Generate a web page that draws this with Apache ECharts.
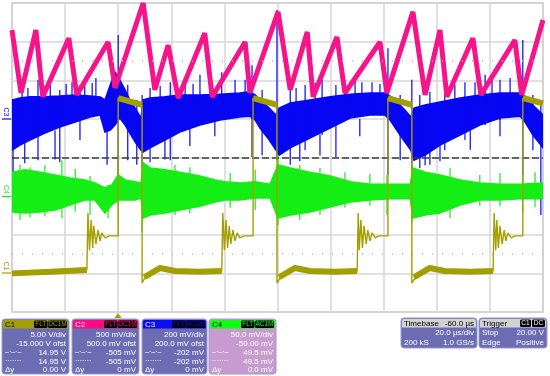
<!DOCTYPE html>
<html>
<head>
<meta charset="utf-8">
<title>Scope capture</title>
<script src="https://cdn.jsdelivr.net/npm/echarts/dist/echarts.min.js"></script>
<style>
  html, body { margin: 0; padding: 0; background: #fff; }
  #scope { width: 550px; height: 376px; }
</style>
</head>
<body>
<div id="scope"></div>
<script>
// trace values are in screen divisions: x 0..10 (20 us/div), y 0..8 (centre line = 4)

// C1 switch node (olive): centre line of the trace
var c1X = [0, 0.72, 1.41, 1.43, 1.46, 1.49, 1.52, 1.54, 1.58, 1.62, 1.66, 1.69, 1.75, 1.83, 2.00, 2.00, 2.45, 2.45, 2.50, 2.79, 3.07, 3.54, 3.95,
  3.97, 4.00, 4.03, 4.06, 4.09, 4.12, 4.16, 4.20, 4.24, 4.29, 4.37, 4.54, 4.54, 4.99, 4.99, 5.05, 5.33, 5.61, 6.08, 6.50,
  6.52, 6.54, 6.57, 6.60, 6.63, 6.67, 6.70, 6.74, 6.78, 6.84, 6.91, 7.08, 7.08, 7.53, 7.53, 7.59, 7.87, 8.15, 8.63, 9.06,
  9.08, 9.11, 9.13, 9.16, 9.19, 9.23, 9.27, 9.30, 9.34, 9.40, 9.47, 9.62, 9.62, 10];
var c1Y = [0.98, 1.04, 1.09, 2.56, 1.60, 2.38, 1.66, 2.23, 1.76, 2.12, 1.84, 2.05, 1.92, 1.97, 1.97, 5.54, 5.36, 0.75, 0.88, 1.14, 1.06, 1.04, 1.06,
  2.56, 1.60, 2.38, 1.66, 2.23, 1.76, 2.12, 1.84, 2.05, 1.92, 1.97, 1.97, 5.54, 5.36, 0.75, 0.88, 1.14, 1.06, 1.04, 1.06,
  2.56, 1.60, 2.38, 1.66, 2.23, 1.76, 2.12, 1.84, 2.05, 1.92, 1.97, 1.97, 5.54, 5.36, 0.75, 0.88, 1.14, 1.06, 1.04, 1.06,
  2.56, 1.60, 2.38, 1.66, 2.23, 1.76, 2.12, 1.84, 2.05, 1.92, 1.97, 1.97, 5.54, 5.40];
// noisy flat parts of C1 (null = gap)
var c1BandX = [0, 0.72, 1.41, null, 2.00, 2.45, null, 2.49, 2.79, 3.07, 3.54, 3.95, null, 4.54, 4.99, null, 5.03, 5.33, 5.61, 6.08, 6.50, null,
  7.08, 7.53, null, 7.57, 7.87, 8.15, 8.63, 9.06, null, 9.62, 10];
var c1BandY = [1.00, 1.04, 1.09, null, 5.54, 5.36, null, 0.90, 1.14, 1.06, 1.04, 1.06, null, 5.54, 5.36, null, 0.90, 1.14, 1.06, 1.04, 1.06, null,
  5.54, 5.36, null, 0.90, 1.14, 1.06, 1.04, 1.06, null, 5.54, 5.40];

// C2 inductor current ramp (pink): corner points
var c2X = [0, 0.17, 0.45, 0.58, 1.07, 1.22, 1.81, 1.94, 2.47, 2.69, 2.94, 3.13, 3.63, 3.77, 4.39, 4.48,
  5.01, 5.24, 5.56, 5.67, 6.12, 6.27, 6.93, 7.06, 7.55, 7.78, 8.06, 8.19, 8.68, 8.83, 9.47, 9.60, 10];
var c2Y = [7.30, 5.67, 7.30, 5.57, 7.09, 5.62, 6.99, 5.80, 8.00, 5.75, 6.91, 5.54, 7.22, 5.57, 6.99, 5.67,
  7.77, 5.75, 7.25, 5.57, 7.12, 5.67, 6.99, 5.67, 7.77, 5.62, 7.30, 5.57, 7.09, 5.62, 7.04, 5.62, 7.56];

// C3 (blue): upper / lower edge of the noise band
var c3X = [0, 0.15, 0.34, 0.62, 0.90, 1.19, 1.47, 1.66, 1.75, 1.85, 1.94, 2.03, 2.13, 2.22, 2.32, 2.43, 2.47, 2.60, 2.88, 3.16,
  3.54, 3.92, 4.29, 4.48, 4.58, 4.67, 4.82, 4.97, 5.03, 5.24, 5.61, 5.99, 6.37, 6.74, 7.02, 7.12, 7.27, 7.40, 7.51, 7.57,
  7.78, 8.06, 8.44, 8.81, 9.19, 9.57, 9.66, 9.81, 10];
var c3Top = [5.49, 5.54, 5.57, 5.57, 5.59, 5.62, 5.59, 5.57, 5.49, 5.88, 6.21, 6.01, 5.75, 5.49, 5.28, 5.02, 5.49, 5.54, 5.57, 5.62,
  5.62, 5.64, 5.67, 5.70, 5.62, 5.49, 5.31, 5.10, 5.28, 5.41, 5.49, 5.57, 5.64, 5.67, 5.67, 5.59, 5.41, 5.23, 5.05, 5.28,
  5.36, 5.44, 5.54, 5.62, 5.67, 5.67, 5.59, 5.36, 5.10];
var c3Bot = [4.19, 4.32, 4.45, 4.63, 4.79, 4.92, 5.05, 5.10, 4.66, 4.71, 4.84, 5.02, 4.84, 4.63, 4.40, 4.19, 4.14, 4.25, 4.45, 4.66,
  4.84, 4.97, 5.05, 5.07, 4.97, 4.76, 4.50, 4.19, 4.06, 4.25, 4.50, 4.76, 5.02, 5.10, 5.10, 4.97, 4.66, 4.40, 4.19, 3.93,
  4.06, 4.32, 4.58, 4.84, 5.02, 5.07, 4.92, 4.58, 4.25];
// [x, low, high]
var c3Spikes = [[0.02, 3.60, 5.49], [0.19, 4.97, 5.88], [0.49, 3.93, 6.01], [0.72, 4.97, 5.88], [0.90, 3.88, 5.75],
  [1.13, 5.23, 5.95], [1.37, 5.23, 6.01], [1.58, 5.28, 6.06], [1.79, 3.81, 5.62], [2.00, 3.34, 7.17],
  [2.18, 3.93, 5.88], [2.35, 3.81, 5.49], [2.45, 3.73, 5.62], [2.60, 3.88, 5.80], [2.98, 3.93, 5.95],
  [3.26, 4.71, 5.95], [3.54, 5.23, 6.14], [3.95, 5.23, 6.21], [4.20, 5.10, 6.01], [4.52, 4.01, 6.39],
  [4.71, 4.06, 5.75], [4.99, 3.93, 7.82], [5.24, 3.81, 5.75], [5.52, 4.19, 5.88], [5.84, 4.58, 6.01],
  [6.10, 4.01, 5.88], [6.46, 5.02, 6.06], [6.78, 5.10, 5.95], [7.08, 3.55, 6.83], [7.31, 3.93, 5.62],
  [7.53, 3.62, 6.01], [7.68, 3.73, 5.62], [7.87, 3.81, 5.70], [8.15, 4.19, 6.01], [8.53, 4.45, 5.95],
  [8.91, 4.84, 6.14], [9.19, 4.97, 6.01], [9.38, 5.10, 6.06], [9.62, 3.55, 7.04], [9.81, 4.19, 5.62],
  [9.96, 2.51, 5.49],
  [0.30, 5.30, 5.80], [0.62, 5.30, 5.85], [1.02, 5.40, 5.90], [1.28, 5.40, 5.88], [1.51, 5.40, 5.93],
  [2.79, 5.30, 5.85], [3.41, 5.40, 5.90], [3.73, 5.40, 5.95], [4.39, 5.50, 6.01], [5.35, 5.20, 5.80],
  [5.71, 5.30, 5.93], [6.27, 5.40, 6.01], [6.59, 5.50, 5.95], [6.93, 5.50, 5.90], [8.34, 5.30, 5.88],
  [8.72, 5.40, 5.95], [9.04, 5.50, 6.01],
  [0.24, 3.85, 4.50], [0.81, 3.95, 4.70], [1.28, 4.45, 5.00], [2.88, 3.95, 4.50], [3.35, 4.30, 4.80],
  [3.82, 4.55, 5.00], [5.42, 3.90, 4.40], [5.80, 4.05, 4.60], [6.55, 4.55, 5.00], [7.78, 3.80, 4.20],
  [8.06, 3.90, 4.40], [8.63, 4.20, 4.70], [9.19, 4.55, 5.00]];

// C4 (green): upper / lower edge of the noise band
var c4X = [0, 0.24, 0.53, 0.81, 1.09, 1.37, 1.56, 1.75, 1.88, 2.00, 2.13, 2.32, 2.43, 2.47, 2.60, 2.88, 3.16, 3.54, 3.82, 4.01,
  4.29, 4.58, 4.86, 5.01, 5.24, 5.61, 5.99, 6.37, 6.74, 7.12, 7.50, 7.55, 7.78, 8.06, 8.44, 8.81, 9.19, 9.57, 10];
var c4Top = [3.62, 3.68, 3.62, 3.55, 3.47, 3.42, 3.34, 3.21, 3.29, 3.55, 3.42, 3.37, 3.34, 3.86, 3.73, 3.68, 3.62, 3.52, 3.42, 3.37,
  3.34, 3.37, 3.31, 3.81, 3.73, 3.62, 3.52, 3.37, 3.31, 3.31, 3.31, 3.73, 3.62, 3.55, 3.42, 3.34, 3.31, 3.31, 3.34];
var c4Bot = [2.59, 2.56, 2.59, 2.64, 2.77, 2.90, 2.90, 2.56, 2.77, 2.90, 2.90, 2.90, 2.95, 2.43, 2.51, 2.56, 2.64, 2.74, 2.85, 2.90,
  2.90, 2.95, 2.95, 2.43, 2.51, 2.59, 2.72, 2.85, 2.90, 2.93, 2.93, 2.43, 2.51, 2.56, 2.77, 2.90, 2.90, 2.93, 2.93];
var c4Spikes = [[0.15, 2.38, 3.81], [0.34, 2.45, 3.75], [0.62, 2.48, 3.80], [0.94, 2.43, 3.93], [1.19, 2.60, 3.70],
  [1.47, 2.51, 3.52], [1.81, 2.43, 3.29], [2.00, 2.77, 3.68], [2.45, 2.07, 3.93], [3.07, 2.51, 3.81],
  [3.35, 2.55, 3.75], [4.11, 2.70, 3.60], [4.58, 2.64, 3.68], [5.01, 2.25, 4.06], [5.42, 2.38, 3.81],
  [5.80, 2.51, 3.73], [6.27, 2.70, 3.62], [6.74, 2.75, 3.58], [7.06, 2.51, 3.55], [7.53, 2.30, 3.81],
  [8.25, 2.43, 3.73], [8.81, 2.75, 3.55], [9.19, 2.74, 3.60], [9.62, 2.59, 3.55], [9.85, 2.72, 3.62]];

// readout panels
var chName = ['C1', 'C2', 'C3', 'C4'];
var chCoupling = ['DC1M', 'DC1M', 'AC1M', 'AC1M'];
var chScale = ['5.00 V/div', '500 mV/div', '200 mV/div', '50.0 mV/div'];
var chOffset = ['-15.000 V ofst', '500.0 mV ofst', '200.0 mV ofst', '-50.00 mV'];
var chCursor = ['14.95 V', '-505 mV', '-202 mV', '49.5 mV'];
var chDelta = ['0.00 V', '0 mV', '0 mV', '0.0 mV'];
var timebase = ['-60.0 µs', '20.0 µs/div', '200 kS', '1.0 GS/s'];
var trigger = ['Stop', '20.00 V', 'Edge', 'Positive'];

var OLIVE = '#a39f00', PINK = '#f5148a', BLUE = '#0606f2', GREEN = '#14ee14';
var FONT = '"Liberation Sans", Arial, sans-serif';

function zip(xs, ys) {
  return xs.map(function (x, i) {
    return (x === null || ys[i] === null) ? ['-', '-'] : [x, ys[i]];
  });
}

function bandSeries(xs, top, bot, color, z) {
  return {
    type: 'custom', z: z, clip: true, silent: true,
    data: [[xs[0], top[0]]],
    renderItem: function (params, api) {
      var pts = [];
      for (var i = 0; i < xs.length; i++) pts.push(api.coord([xs[i], top[i]]));
      for (var j = xs.length - 1; j >= 0; j--) pts.push(api.coord([xs[j], bot[j]]));
      return { type: 'polygon', shape: { points: pts }, style: { fill: color, stroke: color, lineWidth: 1.5 } };
    }
  };
}

function spikeSeries(spikes, color, z) {
  return {
    type: 'custom', z: z, clip: true, silent: true,
    data: spikes,
    encode: { x: 0, y: [1, 2] },
    renderItem: function (params, api) {
      var a = api.coord([api.value(0), api.value(1)]);
      var b = api.coord([api.value(0), api.value(2)]);
      return { type: 'line', shape: { x1: a[0], y1: a[1], x2: b[0], y2: b[1] }, style: { stroke: color, lineWidth: 1.2 } };
    }
  };
}

function txt(x, y, s, color, align, size, bold) {
  return {
    type: 'text', x: x, y: y, silent: true,
    style: {
      text: s, fill: color, font: (bold ? 'bold ' : '') + (size || 8) + 'px ' + FONT,
      textAlign: align || 'left', align: align || 'left',
      textVerticalAlign: 'middle', verticalAlign: 'middle'
    }
  };
}

function box(x, y, w, h, fill, stroke, r) {
  return { type: 'rect', silent: true, shape: { x: x, y: y, width: w, height: h, r: r || 0 },
    style: { fill: fill, stroke: stroke || null, lineWidth: 1 } };
}

function panels() {
  var g = [];
  var left = [2, 72, 142, 209], width = [67, 67, 65, 67];
  var head = [OLIVE, '#ff0a84', '#0a0aff', '#10ff10'];
  var headTxt = ['#000', '#fff', '#fff', '#000'];
  var body = ['#6c6cb2', '#6c6cb2', '#6c6cb2', '#c89bd0'];
  for (var i = 0; i < 4; i++) {
    var x0 = left[i], w = width[i], r = x0 + w - 3;
    g.push(box(x0, 319, w, 55, body[i], '#9a9ad0', 3));
    g.push(box(x0 + 1, 320, w - 2, 8.5, head[i], null, [2, 2, 0, 0]));
    g.push(txt(x0 + 3, 324.5, chName[i], headTxt[i], 'left', 8));
    g.push(box(x0 + w - 21, 320.5, 19, 7.5, '#000', null, 1.5));
    g.push(txt(x0 + w - 11.5, 324.5, chCoupling[i], head[i], 'center', 6.5));
    g.push(box(x0 + w - 35, 320.5, 13.5, 7.5, '#000', null, 1.5));
    g.push(txt(x0 + w - 28.2, 324.5, 'FLT', head[i], 'center', 6.5));
    g.push(txt(r, 335, chScale[i], '#fff', 'right'));
    g.push(txt(r, 343.5, chOffset[i], '#fff', 'right'));
    g.push(txt(x0 + 3, 352.5, '–·–·–', '#fff', 'left', 7));
    g.push(txt(r, 352.5, chCursor[i], '#fff', 'right'));
    g.push(txt(x0 + 3, 361.5, '·······', '#fff', 'left', 7));
    g.push(txt(r, 361.5, chCursor[i], '#fff', 'right'));
    g.push(txt(x0 + 3, 370, 'Δy', '#fff', 'left'));
    g.push(txt(r, 370, chDelta[i], '#fff', 'right'));
  }
  // timebase
  g.push(box(401, 318, 76, 30, '#6c6cb2', '#9a9ad0', 3));
  g.push(box(402, 319, 74, 8.5, '#d2d2d2', null, [2, 2, 0, 0]));
  g.push(txt(404, 323.5, 'Timebase', '#000', 'left'));
  g.push(txt(474, 323.5, timebase[0], '#000', 'right'));
  g.push(txt(474, 333, timebase[1], '#fff', 'right'));
  g.push(txt(404, 342.5, timebase[2], '#fff', 'left'));
  g.push(txt(474, 342.5, timebase[3], '#fff', 'right'));
  // trigger
  g.push(box(479, 318, 68, 30, '#6c6cb2', '#9a9ad0', 3));
  g.push(box(480, 319, 66, 8.5, '#d2d2d2', null, [2, 2, 0, 0]));
  g.push(txt(482, 323.5, 'Trigger', '#000', 'left'));
  g.push(box(520, 319.5, 11, 7.5, '#000', null, 1.5));
  g.push(txt(525.5, 323.5, 'C1', '#fff', 'center', 6.5));
  g.push(box(532, 319.5, 13, 7.5, '#000', null, 1.5));
  g.push(txt(538.5, 323.5, 'DC', '#fff', 'center', 6.5));
  g.push(txt(482, 333, trigger[0], '#fff', 'left'));
  g.push(txt(544, 333, trigger[1], '#fff', 'right'));
  g.push(txt(482, 342.5, trigger[2], '#fff', 'left'));
  g.push(txt(544, 342.5, trigger[3], '#fff', 'right'));

  // channel ground markers on the left edge
  var mk = [['C3', BLUE, 119], ['C4', GREEN, 196.5], ['C1', OLIVE, 273]];
  mk.forEach(function (m) {
    var t = txt(6, m[2] - 7, m[0], m[1], 'center', 7);
    t.rotation = -Math.PI / 2;
    g.push(t);
    g.push({ type: 'line', silent: true, shape: { x1: 2, y1: m[2], x2: 12, y2: m[2] }, style: { stroke: m[1], lineWidth: 1.2 } });
  });
  // trigger position arrow
  g.push({ type: 'polygon', silent: true, shape: { points: [[114.5, 318], [121.5, 318], [118, 313]] }, style: { fill: OLIVE } });
  return g;
}

var chart = echarts.init(document.getElementById('scope'));
chart.setOption({
  animation: false,
  backgroundColor: '#fff',
  grid: { left: 12, right: 7, top: 3, bottom: 64, show: true, borderColor: '#bdbdbd', borderWidth: 1.5 },
  xAxis: { type: 'value', min: 0, max: 10, interval: 1,
    axisLine: { show: false }, axisTick: { show: false }, axisLabel: { show: false },
    splitLine: { lineStyle: { color: '#d6d6d6', width: 1.5 } } },
  yAxis: { type: 'value', min: 0, max: 8, interval: 1,
    axisLine: { show: false }, axisTick: { show: false }, axisLabel: { show: false },
    splitLine: { lineStyle: { color: '#d6d6d6', width: 1.5 } } },
  graphic: panels(),
  series: [
    bandSeries(c3X, c3Top, c3Bot, BLUE, 2),
    spikeSeries(c3Spikes, BLUE, 2),
    bandSeries(c4X, c4Top, c4Bot, GREEN, 3),
    spikeSeries(c4Spikes, GREEN, 3),
    { type: 'line', z: 4, data: zip(c2X, c2Y), symbol: 'none', silent: true,
      lineStyle: { color: PINK, width: 5 } },
    { type: 'line', z: 5, data: zip(c1BandX, c1BandY), symbol: 'none', silent: true, connectNulls: false,
      lineStyle: { color: OLIVE, width: 6 } },
    { type: 'line', z: 5, data: zip(c1X, c1Y), symbol: 'none', silent: true,
      lineStyle: { color: OLIVE, width: 1.4 } },
    { type: 'line', z: 6, data: [], silent: true,
      markLine: { silent: true, symbol: ['none', 'none'], label: { show: false }, animation: false,
        data: [
          { yAxis: 4, lineStyle: { color: '#3c3c3c', type: [7, 3], width: 1.5 } },
          { yAxis: 1.5, lineStyle: { color: '#b8b8b8', type: [1, 9], width: 1.5 } },
          { yAxis: 6.5, lineStyle: { color: '#b8b8b8', type: [1, 9], width: 1.5 } }
        ] } }
  ]
});
</script>
</body>
</html>
